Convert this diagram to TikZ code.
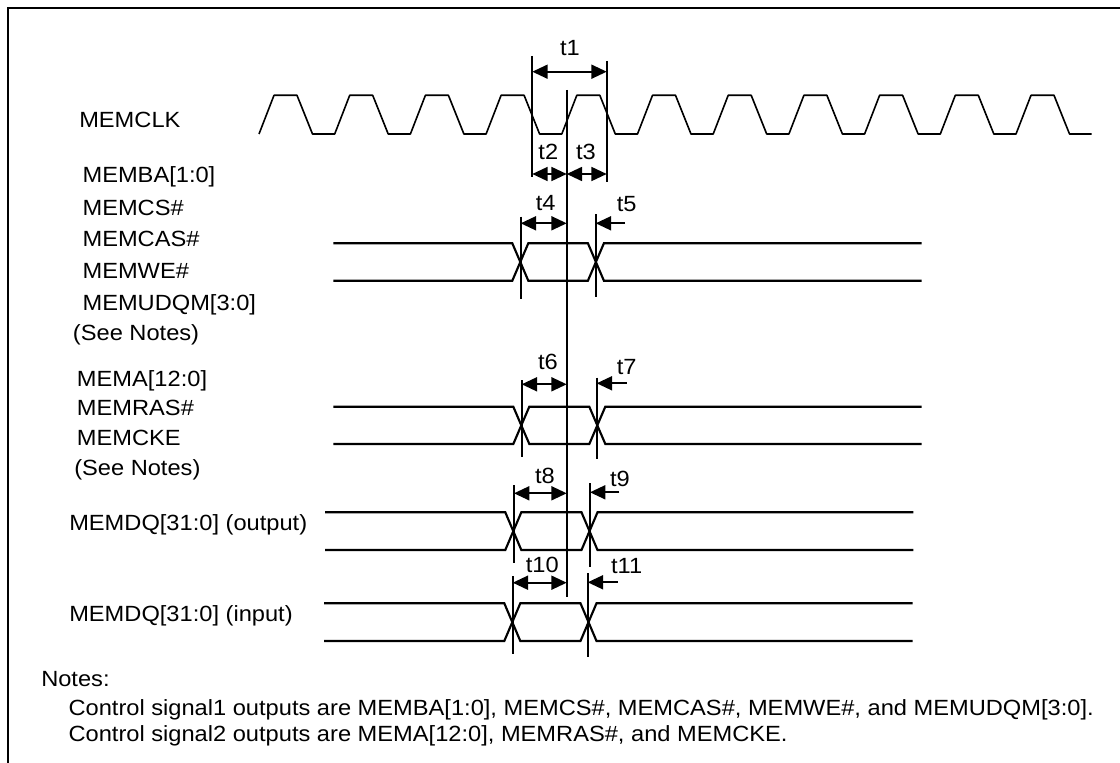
\documentclass[tikz,border=0pt]{standalone}
\usepackage{fontspec}
\setmainfont{Liberation Sans}[FakeStretch=1.075]
\usetikzlibrary{arrows.meta}
\newcommand\drawbus[6]{%
  \draw[sig] (#1,#5) -- ({#2-8},#5) -- ({#2+8},#6) -- ({#3-8},#6) -- ({#3+8},#5) -- (#4,#5);
  \draw[sig] (#1,#6) -- ({#2-8},#6) -- ({#2+8},#5) -- ({#3-8},#5) -- ({#3+8},#6) -- (#4,#6);
}
\begin{document}
\begin{tikzpicture}[x=0.75pt,y=-0.75pt,
  lbl/.style={anchor=base west,inner sep=0,font=\fontsize{16.5pt}{19pt}\selectfont},
  tl/.style={anchor=center,inner sep=0,font=\fontsize{16.5pt}{19pt}\selectfont},
  sig/.style={line width=1.6pt},
  clk/.style={line width=1.2pt,line join=round},
  vline/.style={line width=1.3pt},
  dimarrow/.style={line width=1.3pt,{Triangle[length=11.5pt,width=10.5pt]}-{Triangle[length=11.5pt,width=10.5pt]}},
  leftarrow/.style={line width=1.3pt,-{Triangle[length=11.5pt,width=10.5pt]}},
  frame/.style={line width=1.6pt}]
\useasboundingbox (0,0) rectangle (1120,763);
\draw[frame] (1120,8) -- (8,8) -- (8,763);

% clock
\draw[clk] (259,134)
  \foreach \k in {0,...,10}{ -- ({259+75.7*\k+15},95.3) -- ({259+75.7*\k+38},95.3)
  -- ({259+75.7*\k+53.5},134) -- ({259+75.7*\k+75.7},134) };

% buses
\drawbus{333.3}{520.3}{595.9}{921.7}{243.3}{280.7}
\drawbus{333.3}{521.3}{597.3}{921.7}{406.7}{444}
\drawbus{325}{513.3}{589.5}{913.3}{512.3}{550}
\drawbus{324}{512.3}{588.5}{912.7}{603.3}{641}

% reference lines
\coordinate (mT) at (566.7,90);   \coordinate (mB) at (566.7,596.7);
\coordinate (c1T) at (532.3,56);  \coordinate (c1B) at (532.3,176.7);
\coordinate (c2T) at (606.7,61);  \coordinate (c2B) at (606.7,181.7);
\coordinate (g1aT) at (520.7,216.7); \coordinate (g1aB) at (520.7,299);
\coordinate (g1bT) at (595.7,214);   \coordinate (g1bB) at (595.7,297.3);
\coordinate (g2aT) at (521.7,380);   \coordinate (g2aB) at (521.7,457);
\coordinate (g2bT) at (596.7,377.7); \coordinate (g2bB) at (596.7,459);
\coordinate (g3aT) at (514,485);     \coordinate (g3aB) at (514,563.3);
\coordinate (g3bT) at (590,483.3);   \coordinate (g3bB) at (590,566.7);
\coordinate (g4aT) at (512.7,576);   \coordinate (g4aB) at (512.7,654);
\coordinate (g4bT) at (587.7,573.3); \coordinate (g4bB) at (587.7,656.7);
\foreach \n in {m,c1,c2,g1a,g1b,g2a,g2b,g3a,g3b,g4a,g4b}{\draw[vline] (\n T) -- (\n B);}

% dimension arrows
\coordinate (t1a) at (532.3,71.7);  \coordinate (t1b) at (606.7,71.7);
\coordinate (t2a) at (532.3,174);   \coordinate (t2b) at (566.7,174);
\coordinate (t3b) at (606.7,174);
\coordinate (t4a) at (520.7,223.3); \coordinate (t4b) at (566.7,223.3);
\coordinate (t5a) at (625,223.3);   \coordinate (t5b) at (595.7,223.3);
\coordinate (t6a) at (521.7,384.3); \coordinate (t6b) at (566.7,384.3);
\coordinate (t7a) at (626.7,383.3); \coordinate (t7b) at (596.7,383.3);
\coordinate (t8a) at (514,493.3);   \coordinate (t8b) at (566.7,493.3);
\coordinate (t9a) at (619.3,492.3); \coordinate (t9b) at (590,492.3);
\coordinate (t10a) at (512.7,582.7); \coordinate (t10b) at (566.7,582.7);
\coordinate (t11a) at (617.7,582.3); \coordinate (t11b) at (587.7,582.3);
\draw[dimarrow] (t1a) -- (t1b);
\draw[dimarrow] (t2a) -- (t2b);
\draw[dimarrow] (t2b) -- (t3b);
\draw[dimarrow] (t4a) -- (t4b);
\draw[leftarrow] (t5a) -- (t5b);
\draw[dimarrow] (t6a) -- (t6b);
\draw[leftarrow] (t7a) -- (t7b);
\draw[dimarrow] (t8a) -- (t8b);
\draw[leftarrow] (t9a) -- (t9b);
\draw[dimarrow] (t10a) -- (t10b);
\draw[leftarrow] (t11a) -- (t11b);

% timing labels
\node[tl] (lt1) at (570,48.3) {t1};
\node[tl] (lt2) at (548.3,151.7) {t2};
\node[tl] (lt3) at (586,151.7) {t3};
\node[tl] (lt4) at (545.7,203) {t4};
\node[tl] (lt5) at (626.7,204) {t5};
\node[tl] (lt6) at (548,362) {t6};
\node[tl] (lt7) at (626.7,367) {t7};
\node[tl] (lt8) at (545,476) {t8};
\node[tl] (lt9) at (620,479.3) {t9};
\node[tl] (lt10) at (542.3,565) {t10};
\node[tl] (lt11) at (626.7,566) {t11};

% signal labels
\node[lbl] (sclk) at (79,128) {MEMCLK};
\node[lbl] (sba) at (82.3,182.7) {MEMBA[1:0]};
\node[lbl] (scs) at (82.3,215) {MEMCS\#};
\node[lbl] (scas) at (82.3,246.7) {MEMCAS\#};
\node[lbl] (swe) at (82.3,278.3) {MEMWE\#};
\node[lbl] (sudqm) at (82.3,310) {MEMUDQM[3:0]};
\node[lbl] (sn1) at (72.7,340) {(See Notes)};
\node[lbl] (sa) at (76.7,386) {MEMA[12:0]};
\node[lbl] (sras) at (76.7,415) {MEMRAS\#};
\node[lbl] (scke) at (76.7,445) {MEMCKE};
\node[lbl] (sn2) at (74,475) {(See Notes)};
\node[lbl] (sdqo) at (69,530) {MEMDQ[31:0] (output)};
\node[lbl] (sdqi) at (69,621.7) {MEMDQ[31:0] (input)};

% notes
\node[lbl] (notes) at (41,686) {Notes:};
\node[lbl] (note1) at (68.3,715) {Control signal1 outputs are MEMBA[1:0], MEMCS\#, MEMCAS\#, MEMWE\#, and MEMUDQM[3:0].};
\node[lbl] (note2) at (68.3,741.7) {Control signal2 outputs are MEMA[12:0], MEMRAS\#, and MEMCKE.};
\end{tikzpicture}
\end{document}
